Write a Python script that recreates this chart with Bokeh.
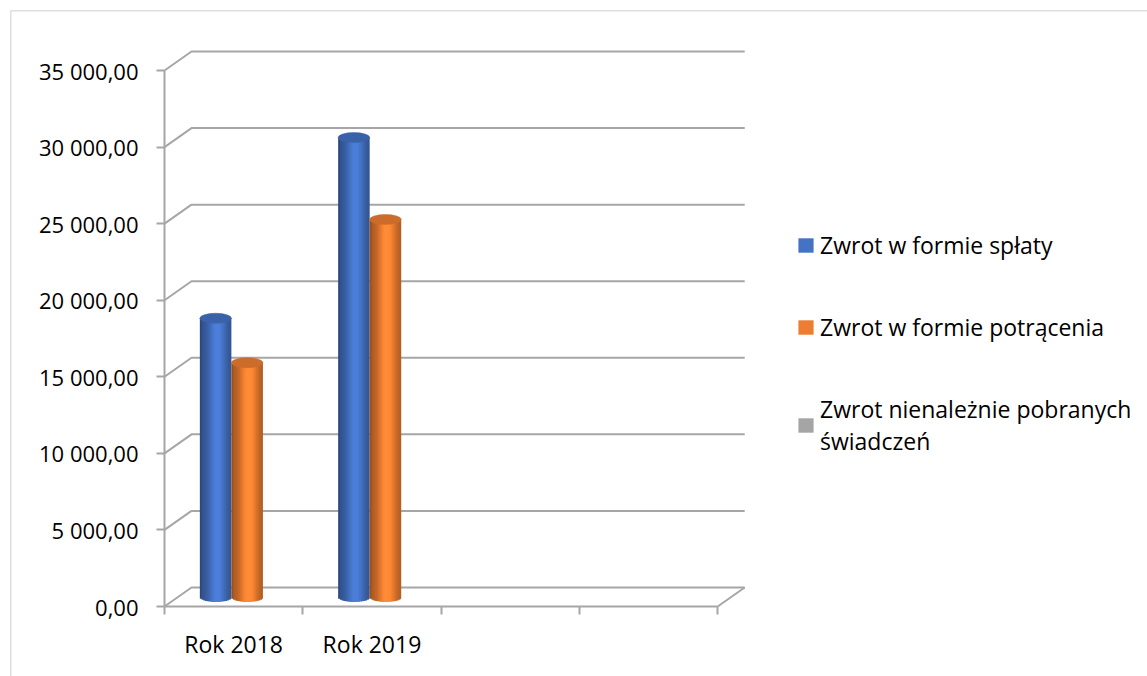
import math
from bokeh.plotting import figure
from bokeh.models import (Range1d, LinearAxis, FixedTicker, ColumnDataSource,
                          Legend, LegendItem, Span)
from bokeh.embed import file_html
from bokeh.resources import INLINE

# ---------------- data ----------------
categories = ["Rok 2018", "Rok 2019", "", ""]
series_names = ["Zwrot w formie spłaty",
                "Zwrot w formie potrącenia",
                "Zwrot nienależnie pobranych\nświadczeń"]
zwrot_splaty = [18200, 30000]
zwrot_potracenia = [15300, 24650]
zwrot_nienaleznie = [0, 0]
series_colors = ["#4472C4", "#ED7D31", "#A5A5A5"]
y_ticks = [0, 5000, 10000, 15000, 20000, 25000, 30000, 35000]
y_tick_labels = ["0,00", "5 000,00", "10 000,00", "15 000,00",
                 "20 000,00", "25 000,00", "30 000,00", "35 000,00"]

series_values = [zwrot_splaty, zwrot_potracenia, zwrot_nienaleznie]

# ---------------- layout constants ----------------
W, H = 1147, 676
FL, FT = 10, 10               # frame left / top inside canvas
PX_PER_CAT = 138.3
PX_PER_VAL = 536.0 / 35000.0
X0_FROM_FRAME_LEFT = 154.0     # px from frame left to x = 0
Y0_FROM_FRAME_BOTTOM = 70.0    # px from frame bottom to y = 0
FRAME_W = W - FL
FRAME_H = H - FT

x_start = -X0_FROM_FRAME_LEFT / PX_PER_CAT
x_end = x_start + FRAME_W / PX_PER_CAT
y_start = -Y0_FROM_FRAME_BOTTOM / PX_PER_VAL
y_end = y_start + FRAME_H / PX_PER_VAL

DX = 27.0 / PX_PER_CAT        # depth offset (x)
DY = 19.0 / PX_PER_VAL        # depth offset (y)
ELL_PX = 10.0                 # ellipse height in px
E = (ELL_PX / 2) / PX_PER_VAL
BAR_W = 0.228
STEP = 0.228
N_STRIP = 18
GRID_COLOR = "#A6A6A6"
FONT = "Open Sans"

p = figure(width=W, height=H, output_backend="svg", toolbar_location=None,
           x_range=Range1d(x_start, x_end), y_range=Range1d(y_start, y_end),
           x_axis_location=None, y_axis_location=None,
           min_border_left=FL, min_border_top=FT,
           min_border_right=0, min_border_bottom=0)
p.outline_line_color = None
p.background_fill_color = "white"
p.border_fill_color = "white"
p.xgrid.grid_line_color = None
p.ygrid.grid_line_color = None

# outer chart border (left / top)
p.add_layout(Span(location=x_start, dimension="height", line_color="#BFBFBF", line_width=1.5))
p.add_layout(Span(location=y_end, dimension="width", line_color="#BFBFBF", line_width=1.5))

n_cat = len(categories)

# walls / floor gridlines
xs, ys = [], []
for v in y_ticks:
    xs.append([0, DX, n_cat + DX])
    ys.append([v, v + DY, v + DY])
xs.append([n_cat, n_cat + DX])
ys.append([0, DY])
p.multi_line(xs, ys, line_color=GRID_COLOR, line_width=2)


def shade(hexc, f):
    r, g, b = int(hexc[1:3], 16), int(hexc[3:5], 16), int(hexc[5:7], 16)
    c = [max(0, min(255, int(round(ch * f)))) for ch in (r, g, b)]
    return "#%02x%02x%02x" % tuple(c)


strips = dict(left=[], right=[], top=[], bottom=[], color=[])
tops = dict(x=[], y=[], color=[])
sw = BAR_W / N_STRIP
for s, vals in enumerate(series_values):
    base = series_colors[s]
    for i, v in enumerate(vals):
        if v <= 0:
            continue
        cx = i + 0.5 + (s - 1) * STEP + DX / 2
        left = cx - BAR_W / 2
        for j in range(N_STRIP):
            t0, t1 = j / N_STRIP, (j + 1) / N_STRIP
            tc = (t0 + t1) / 2
            u = 2 * tc - 1
            f = 0.70 + 0.42 * math.exp(-((tc - 0.55) / 0.30) ** 2)
            if tc < 0.08:
                f -= 0.08
            strips["left"].append(left + t0 * BAR_W)
            strips["right"].append(left + t1 * BAR_W + (0.5 * sw if j < N_STRIP - 1 else 0))
            strips["top"].append(v + DY / 2)
            strips["bottom"].append(DY / 2 - E * math.sqrt(max(0.0, 1 - u * u)))
            strips["color"].append(shade(base, f))
        tops["x"].append(cx)
        tops["y"].append(v + DY / 2)
        tops["color"].append(shade(base, 0.86))

p.quad(left="left", right="right", top="top", bottom="bottom",
       fill_color="color", line_color=None, source=ColumnDataSource(strips))
p.ellipse(x="x", y="y", width=BAR_W, height=ELL_PX, height_units="screen",
          fill_color="color", line_color="color", line_width=0.5,
          source=ColumnDataSource(tops))

# y axis (front)
yaxis = LinearAxis(fixed_location=0, bounds=(0, y_ticks[-1]),
                   ticker=FixedTicker(ticks=y_ticks),
                   major_label_overrides={t: l for t, l in zip(y_ticks, y_tick_labels)},
                   axis_line_color=GRID_COLOR, axis_line_width=2,
                   major_tick_line_color=GRID_COLOR, major_tick_line_width=2,
                   major_tick_out=8, major_tick_in=0, minor_tick_out=0, minor_tick_in=0,
                   major_label_standoff=18,
                   major_label_text_font=FONT, major_label_text_font_size="22px",
                   major_label_text_color="#000000")
p.add_layout(yaxis, "left")

# x axis ticks (category boundaries)
xaxis_t = LinearAxis(fixed_location=0, bounds=(0, n_cat),
                     ticker=FixedTicker(ticks=list(range(n_cat + 1))),
                     axis_line_color=GRID_COLOR, axis_line_width=2,
                     major_tick_line_color=GRID_COLOR, major_tick_line_width=2,
                     major_tick_out=8, major_tick_in=0, minor_tick_out=0, minor_tick_in=0,
                     major_label_text_color=None)
p.add_layout(xaxis_t, "below")

# x axis labels (category centres)
centres = [i + 0.5 for i in range(n_cat)]
xaxis_l = LinearAxis(fixed_location=0,
                     ticker=FixedTicker(ticks=centres),
                     major_label_overrides={c: (l if l else " ") for c, l in zip(centres, categories)},
                     axis_line_color=None, major_tick_line_color=None,
                     major_tick_out=0, major_tick_in=0, minor_tick_out=0, minor_tick_in=0,
                     major_label_standoff=21,
                     major_label_text_font=FONT, major_label_text_font_size="23px",
                     major_label_text_color="#000000")
p.add_layout(xaxis_l, "below")

# legend (zero-area quads built from the series values act as legend glyphs)
items = []
for s, (name, col) in enumerate(zip(series_names, series_colors)):
    vals = series_values[s]
    cxs = [i + 0.5 + (s - 1) * STEP + DX / 2 for i in range(len(vals))]
    src = ColumnDataSource(dict(l=cxs, r=cxs, t=[v + DY / 2 for v in vals],
                                b=[v + DY / 2 for v in vals]))
    r = p.quad(left="l", right="r", top="t", bottom="b", fill_color=col,
               line_color=None, source=src)
    items.append(LegendItem(label=name, renderers=[r]))
legend = Legend(items=items, location=(786, 219), padding=0, margin=0,
                border_line_color=None, background_fill_alpha=0,
                glyph_width=19, glyph_height=18, label_standoff=5,
                spacing=50, label_height=20, label_text_line_height=1.5,
                label_text_font=FONT, label_text_font_size="23px",
                label_text_color="#000000")
p.add_layout(legend)

open("out.html", "w").write(file_html(p, INLINE))
